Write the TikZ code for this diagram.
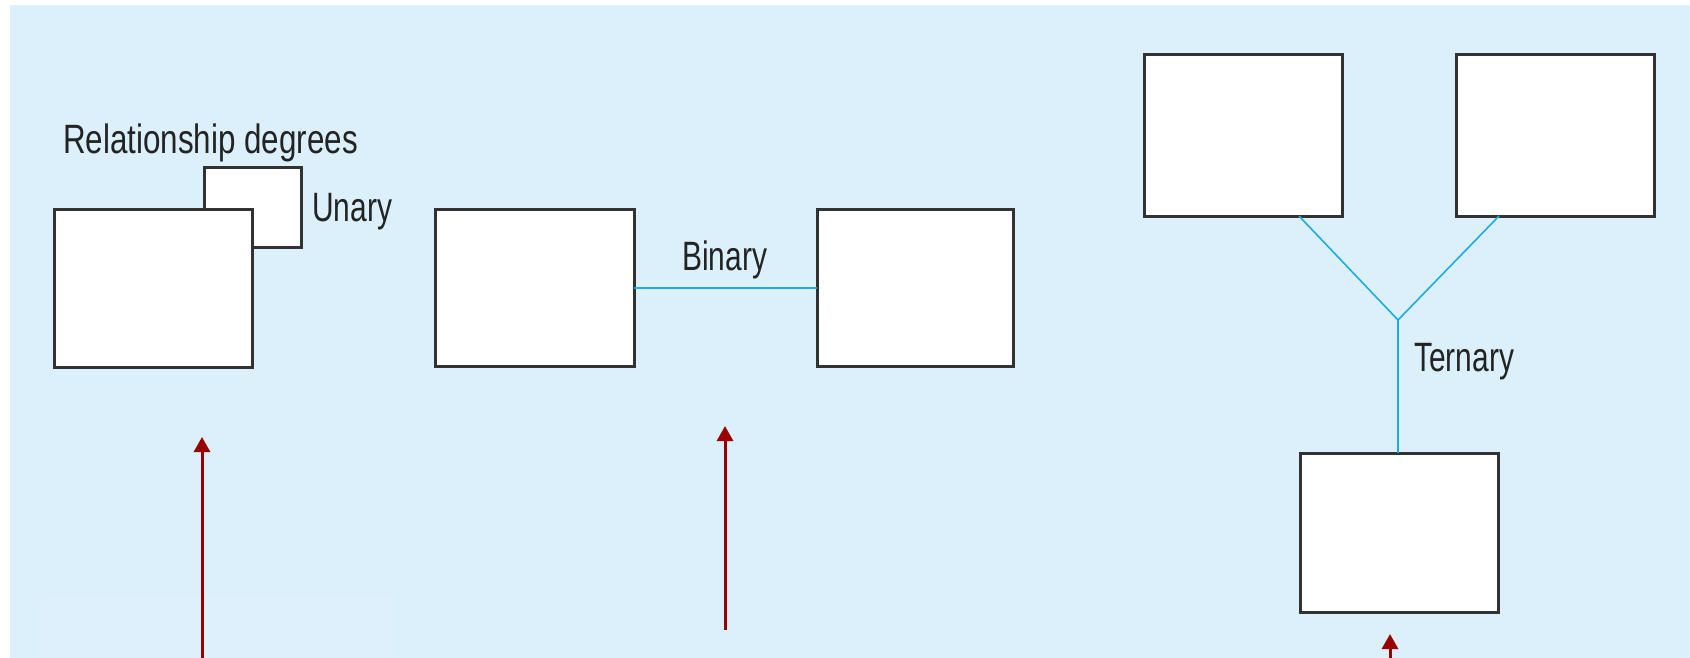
\documentclass[tikz,border=0pt]{standalone}
\usepackage{fontspec}
\setmainfont{Liberation Sans}
\usetikzlibrary{arrows.meta,calc}
\definecolor{panel}{RGB}{219,240,251}
\definecolor{panelpatch}{RGB}{223,240,253}
\definecolor{boxline}{RGB}{50,50,50}
\definecolor{link}{RGB}{30,170,226}
\definecolor{pointer}{RGB}{153,0,0}
\definecolor{labeltext}{RGB}{35,35,35}
\newcommand{\degreelabel}[2][0.73]{\scalebox{#1}[1]{#2}}
\tikzset{
  entity/.style={draw=boxline, fill=white, line width=3pt, inner sep=0pt, outer sep=0pt},
  relline/.style={draw=link, line width=2pt},
  triline/.style={draw=link, line width=1.6pt},
  lbl/.style={anchor=base west, inner sep=0pt, text=labeltext, font=\fontsize{41}{41}\selectfont},
  pointerarrow/.style={draw=pointer, line width=3pt, -{Triangle[width=16pt,length=15pt]}}
}
\begin{document}
\begin{tikzpicture}[x=1pt,y=-1pt]
  % canvas and panel
  \fill[white] (0,0) rectangle (1690,658);
  \useasboundingbox (0,0) rectangle (1690,658);
  \fill[panel] (10,5) rectangle (1690,658);
  \fill[panelpatch] (42,597) rectangle (393,658);

  % unary: an entity related to itself
  \node[entity, minimum width=97pt, minimum height=79pt] (u2) at (252.5,207.5) {};
  \node[entity, minimum width=198pt, minimum height=158pt] (u1) at (153,288) {};
  \node[lbl] (title) at (63,154) {\degreelabel[0.765]{Relationship degrees}};
  \node[lbl] (unary) at (312,222) {\degreelabel{Unary}};

  % binary: two entities
  \node[entity, minimum width=199pt, minimum height=157pt] (b1) at (534.5,287.5) {};
  \node[entity, minimum width=196pt, minimum height=157pt] (b2) at (915,287.5) {};
  \draw[relline] (b1.east) -- (b2.west);
  \node[lbl] (binary) at (682,270) {\degreelabel{Binary}};

  % ternary: three entities meeting at one point
  \node[entity, minimum width=198pt, minimum height=161pt] (t1) at (1243,135.5) {};
  \node[entity, minimum width=198pt, minimum height=161pt] (t2) at (1555,135.5) {};
  \node[entity, minimum width=198pt, minimum height=159pt] (t3) at (1399,532.5) {};
  \coordinate (joint) at (1398,320);
  \draw[triline] ($(t1.south east)+(-43,0)$) -- (joint) -- ($(t2.south west)+(43,0)$);
  \draw[triline] (joint) -- (joint |- t3.north);
  \node[lbl] (ternary) at (1414,371) {\degreelabel{Ternary}};

  % pointers
  \coordinate (ua) at (202,658);
  \coordinate (ub) at (202,437);
  \coordinate (ba) at (725,630);
  \coordinate (bb) at (725,426);
  \coordinate (ta) at (1390,658);
  \coordinate (tb) at (1390,634);
  \draw[pointerarrow] (ua) -- (ub);
  \draw[pointerarrow] (ba) -- (bb);
  \draw[pointerarrow] (ta) -- (tb);
\end{tikzpicture}
\end{document}
